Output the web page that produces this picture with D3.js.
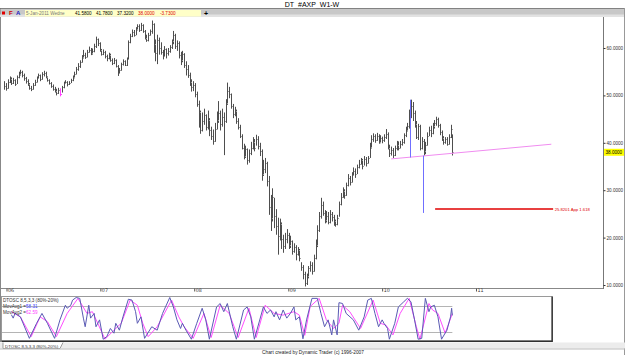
<!DOCTYPE html>
<html>
<head>
<meta charset="utf-8">
<script src="https://cdn.jsdelivr.net/npm/d3@7"></script>
<style>
  body { margin: 0; background: #fff; }
  svg { display: block; font-family: "Liberation Sans", "DejaVu Sans", sans-serif; }
</style>
</head>
<body>
<script>
// weekly bars, first one is Fri 23-Dec-2005
const firstWeek = new Date(2005, 11, 23);

const highs = [
  53.0, 52.6, 53.4, 54.0, 53.8, 53.7, 53.4, 54.2, 55.0, 55.4,
  55.2, 54.6, 53.9, 53.4, 52.6, 52.0, 52.6, 53.3, 54.0, 54.6,
  54.4, 54.9, 55.2, 55.0, 54.0, 53.4, 52.8, 52.3, 51.8, 51.4,
  51.6, 51.5, 52.0, 52.9, 53.2, 53.0, 53.0, 53.5, 54.2, 55.0,
  56.0, 56.8, 57.4, 58.5, 59.6, 59.0, 59.6, 60.3, 60.0, 59.9,
  60.9, 62.4, 62.0, 61.2, 59.8, 59.7, 59.4, 58.6, 59.0, 58.8,
  57.8, 57.9, 57.6, 56.4, 55.8, 56.9, 57.6, 57.4, 58.0, 61.6,
  63.0, 63.9, 63.8, 64.4, 65.0, 65.0, 65.3, 65.0, 63.8, 62.8,
  63.2, 63.9, 65.8, 65.2, 61.8, 62.8, 62.2, 61.2, 59.6, 60.4,
  59.9, 60.0, 60.6, 61.8, 63.6, 63.0, 61.6, 61.4, 59.2, 59.4,
  58.9, 57.2, 56.4, 54.8, 53.4, 53.0, 52.6, 50.8, 48.9, 46.8,
  46.4, 47.2, 46.0, 46.8, 45.2, 43.4, 42.8, 44.2, 46.6, 48.8,
  46.8, 47.2, 46.4, 49.2, 52.7, 51.8, 50.4, 48.2, 47.6, 47.0,
  45.2, 43.8, 41.8, 39.8, 39.4, 38.8, 38.6, 40.2, 41.2, 40.8,
  41.7, 41.4, 40.0, 38.6, 36.4, 36.8, 36.0, 33.0, 29.0, 30.4,
  28.4, 26.0, 24.2, 24.0, 23.2, 20.6, 21.0, 21.8, 21.0, 20.4,
  19.4, 18.8, 18.4, 18.0, 17.6, 14.8, 14.2, 12.8, 12.4, 14.0,
  15.0, 14.8, 16.4, 19.6, 22.6, 25.4, 28.4, 27.6, 25.8, 25.6,
  25.4, 25.8, 25.4, 24.8, 23.8, 24.8, 27.6, 29.4, 30.6, 30.2,
  31.6, 33.4, 33.0, 33.8, 34.8, 34.6, 35.4, 36.4, 36.8, 36.6,
  37.2, 37.0, 37.2, 40.0, 41.6, 42.0, 41.8, 42.1, 41.8, 41.6,
  41.3, 41.8, 42.9, 42.2, 39.6, 39.2, 38.9, 39.4, 40.4, 40.3,
  40.4, 40.8, 42.0, 43.4, 44.2, 47.0, 49.1, 48.6, 46.8, 44.6,
  44.0, 43.8, 41.2, 40.8, 40.2, 42.2, 43.4, 43.6, 44.2, 44.8,
  45.5, 45.3, 44.0, 42.6, 41.4, 41.2, 41.2, 41.8, 43.8, 41.78
];
const lows = [
  51.2, 51.0, 51.4, 52.6, 52.2, 52.4, 52.0, 52.4, 53.6, 54.2,
  53.8, 53.1, 52.5, 52.0, 51.2, 50.9, 51.2, 52.0, 52.7, 53.5,
  53.0, 53.3, 54.0, 53.6, 52.9, 52.3, 51.6, 51.0, 50.6, 50.0,
  50.3, 49.8, 50.6, 51.5, 52.4, 51.9, 52.2, 52.6, 53.0, 53.6,
  54.4, 55.2, 55.8, 56.9, 57.8, 57.7, 58.0, 59.0, 58.5, 58.6,
  59.1, 60.0, 60.4, 59.2, 58.4, 58.5, 57.8, 57.2, 57.6, 57.1,
  56.4, 56.6, 55.9, 54.1, 54.6, 55.2, 56.3, 56.2, 56.2, 57.6,
  61.0, 62.3, 62.4, 62.7, 63.7, 63.4, 63.6, 63.2, 61.8, 61.3,
  61.4, 62.6, 63.0, 59.0, 57.2, 56.6, 58.6, 58.6, 57.6, 58.2,
  57.8, 58.4, 59.0, 59.8, 60.8, 59.8, 59.4, 57.8, 56.4, 57.0,
  55.8, 54.2, 53.7, 52.0, 50.8, 50.9, 49.6, 47.6, 43.2, 41.9,
  42.4, 43.8, 42.6, 42.8, 41.4, 40.6, 39.6, 40.2, 42.8, 44.2,
  42.6, 43.4, 37.4, 44.2, 48.0, 49.4, 47.2, 45.2, 45.6, 44.0,
  42.8, 41.0, 38.6, 36.5, 36.8, 35.4, 35.8, 37.4, 38.6, 38.2,
  39.4, 38.6, 37.2, 32.0, 33.0, 33.6, 30.8, 24.8, 21.4, 23.4,
  22.0, 20.6, 16.4, 19.4, 17.6, 16.8, 17.6, 18.8, 17.6, 17.8,
  16.4, 16.8, 15.2, 16.2, 15.0, 13.0, 11.2, 9.7, 10.0, 11.4,
  12.8, 12.2, 12.8, 15.4, 18.0, 21.2, 24.0, 24.6, 23.0, 23.2,
  22.8, 23.0, 23.4, 22.5, 22.3, 22.6, 24.4, 26.8, 28.4, 28.2,
  28.8, 30.8, 31.0, 31.6, 33.0, 32.6, 33.4, 34.6, 35.4, 34.4,
  35.2, 35.0, 35.6, 36.8, 38.8, 40.2, 40.0, 40.4, 39.8, 39.9,
  39.9, 40.2, 40.8, 38.6, 37.0, 37.3, 36.8, 37.2, 38.4, 38.4,
  38.8, 39.4, 39.8, 41.2, 42.4, 43.0, 45.2, 44.6, 43.2, 40.8,
  40.6, 38.4, 38.6, 37.3, 37.6, 39.4, 41.4, 41.2, 41.8, 43.0,
  43.6, 43.2, 41.6, 40.4, 39.6, 39.8, 39.4, 39.6, 41.0, 37.32
];
const closes = [
  52.0, 51.5, 52.8, 53.5, 52.6, 53.2, 52.4, 53.8, 54.6, 55.0,
  54.2, 53.6, 53.0, 52.4, 51.6, 51.3, 52.2, 52.8, 53.6, 54.2,
  53.4, 54.5, 54.8, 53.9, 53.2, 52.6, 52.0, 51.4, 51.0, 50.6,
  51.2, 50.4, 51.8, 52.6, 52.9, 52.3, 52.7, 53.2, 53.8, 54.5,
  55.6, 56.3, 57.0, 58.0, 58.6, 58.1, 59.2, 59.6, 58.9, 59.4,
  60.5, 61.8, 61.0, 59.6, 58.8, 59.2, 58.3, 57.9, 58.6, 57.5,
  56.8, 57.4, 56.2, 54.8, 55.3, 56.6, 57.2, 56.5, 57.6, 61.2,
  62.5, 63.4, 62.8, 64.0, 64.6, 63.8, 64.9, 63.5, 62.2, 61.7,
  62.8, 63.5, 65.0, 60.8, 59.0, 61.6, 60.0, 59.2, 58.4, 59.8,
  58.9, 59.4, 60.2, 61.4, 62.8, 60.4, 61.0, 58.6, 57.4, 58.8,
  56.5, 55.6, 54.4, 52.8, 51.7, 52.2, 50.4, 48.2, 46.5, 42.8,
  44.6, 45.8, 43.4, 44.9, 42.6, 41.5, 40.4, 43.0, 44.8, 46.2,
  44.0, 45.4, 44.6, 48.5, 51.0, 50.2, 47.8, 46.0, 46.8, 44.6,
  43.3, 41.5, 39.0, 37.2, 38.6, 36.4, 37.8, 38.9, 40.2, 39.0,
  40.8, 39.4, 38.2, 33.5, 34.5, 35.8, 32.0, 26.5, 24.2, 28.6,
  24.6, 22.5, 20.4, 22.8, 19.6, 18.2, 19.8, 20.6, 18.5, 19.2,
  17.2, 18.0, 16.6, 17.4, 15.8, 13.8, 12.4, 10.4, 11.8, 13.6,
  14.2, 13.0, 15.8, 18.5, 21.6, 24.5, 26.8, 25.2, 23.8, 24.6,
  23.2, 25.0, 24.3, 23.5, 22.9, 24.2, 27.0, 28.6, 29.8, 28.9,
  31.0, 32.6, 31.8, 33.2, 34.0, 33.5, 34.8, 35.6, 36.3, 35.2,
  36.6, 35.8, 36.8, 39.2, 40.8, 41.4, 40.6, 41.5, 40.2, 41.0,
  40.5, 41.2, 41.9, 39.0, 37.8, 38.5, 37.4, 38.8, 39.6, 38.9,
  39.8, 40.2, 41.6, 42.8, 43.5, 45.6, 47.8, 46.2, 44.0, 41.2,
  43.6, 39.0, 40.4, 38.2, 39.6, 41.5, 42.8, 42.0, 43.6, 44.2,
  45.0, 43.8, 42.2, 41.0, 40.2, 40.8, 39.8, 41.2, 43.0, 38.0
];
const markedBar = 31; // bar painted magenta

// DTOSC lines, read at [bar index, value]
const oscFast = [
  [4,60],[5,52],[6,63],[9,55],[14,5],[18,40],[21,63],[24,40],[28,5],[31,48],
  [34,82],[35,75],[37,82],[38,94],[40,100],[42,98],[44,52],[45,32],[47,82],[48,52],
  [50,63],[51,32],[53,48],[55,3],[57,9],[59,28],[61,17],[62,40],[64,24],[66,55],
  [69,96],[71,94],[73,67],[74,40],[76,55],[78,5],[82,32],[85,24],[88,63],[92,100],
  [94,78],[96,48],[98,28],[99,40],[101,24],[104,3],[107,40],[110,75],[112,48],[114,3],
  [118,78],[120,86],[122,67],[124,86],[127,32],[129,3],[133,71],[135,78],[137,55],[139,3],
  [144,78],[146,63],[148,71],[150,55],[151,67],[153,48],[155,71],[157,52],[159,63],[161,78],
  [162,48],[164,55],[166,4],[168,48],[171,98],[174,98],[176,63],[178,32],[180,48],[182,13],
  [183,48],[185,13],[186,88],[188,86],[190,63],[194,48],[197,24],[200,55],[202,94],[204,98],
  [206,63],[208,32],[210,48],[211,40],[213,28],[214,3],[217,40],[219,78],[222,90],[224,98],
  [226,90],[228,48],[230,3],[232,5],[234,98],[236,67],[237,78],[239,82],[241,55],[243,3],
  [246,24],[248,55],[248.6,75],[249,58.31]
];
const oscSlow = [
  [4,67],[9,55],[15,9],[20,55],[24,44],[29,9],[35,63],[41,98],[46,63],[49,67],
  [52,40],[56,3],[61,24],[65,40],[70,94],[74,82],[77,40],[80,9],[85,32],[93,94],
  [97,55],[100,32],[105,5],[111,63],[115,7],[120,82],[125,63],[130,7],[136,75],[140,7],
  [145,82],[150,63],[155,59],[161,67],[164,59],[167,12],[170,79],[175,98],[179,48],[183,28],
  [186,40],[188,82],[192,67],[198,28],[205,94],[209,40],[212,36],[216,13],[220,63],[225,98],
  [229,32],[231,3],[236,86],[238,71],[241,63],[245,17],[249,62.59]
];
const oscLevels = [80, 20];

const priceTicks = [10, 20, 30, 40, 50, 60];
const lastClose = 38.0;
const quote = ["41.5800", "41.7800", "37.3200", "38.0000", "-3.7300"];

// drawn tools
const trendLine = [[new Date(2010, 1, 5), 36.6], [new Date(2011, 9, 21), 39.7]];
const blueLines = [[226, 49.1, 36.9], [233, 37.3, 25.2]];
const target = {price: 25.8201, from: new Date(2010, 6, 26), to: new Date(2011, 9, 28), label: "25.8201 App 1.618"};

const W = 625, H = 355;
const N = closes.length;
const dates = d3.range(N).map(i => d3.timeDay.offset(firstWeek, 7 * i));

const svg = d3.select("body").append("svg")
    .attr("width", W).attr("height", H);

svg.append("rect").attr("width", W).attr("height", H).attr("fill", "#fff");

// title + quote bar
svg.append("text").attr("x", 312).attr("y", 6.5)
    .attr("text-anchor", "middle").attr("font-size", 7).attr("fill", "#000")
    .text("DT_#AXP_W1-W");
svg.append("rect").attr("x", 0).attr("y", 8.5).attr("width", W).attr("height", 8)
    .attr("fill", "#c8c8c8").attr("stroke", "#6a6a6a").attr("stroke-width", 0.8);
svg.append("rect").attr("x", 0).attr("y", 14.5).attr("width", W).attr("height", 2.5).attr("fill", "#e2e2e2");
svg.append("rect").attr("x", 2).attr("y", 11.5).attr("width", 3).attr("height", 3).attr("fill", "#e00000");
svg.append("text").attr("x", 9).attr("y", 15).attr("font-size", 6).attr("font-weight", "bold")
    .attr("fill", "#d00000").text("F");
svg.append("text").attr("x", 16).attr("y", 15).attr("font-size", 6).attr("font-weight", "bold")
    .attr("fill", "#2020c0").text("A");
svg.append("rect").attr("x", 25).attr("y", 10).attr("width", 176).attr("height", 6.5).attr("fill", "#ffffc8");
svg.append("text").attr("x", 26).attr("y", 15).attr("font-size", 4.6).attr("fill", "#777")
    .text("5-Jan-2011 Wedne");
const quoteX = [75, 96, 117, 138, 160];
quote.forEach((q, i) => {
  svg.append("text").attr("x", quoteX[i]).attr("y", 15).attr("font-size", 4.6)
      .attr("fill", i >= 3 ? "#e00000" : "#000").text(q);
});
svg.append("text").attr("x", 204).attr("y", 15.5).attr("font-size", 7).attr("font-weight", "bold")
    .attr("fill", "#000").text("+");

// scales
const x = d3.scaleTime()
    .domain([new Date(2006, 0, 1), new Date(2011, 0, 1)])
    .range([6.5, 476]);
const bx = d3.scaleLinear()
    .domain([0, N - 1])
    .range([x(dates[0]), x(dates[N - 1])]);
const y = d3.scaleLinear()
    .domain([10, 60])
    .range([285, 48]);
const oy = d3.scaleLinear()
    .domain([0, 100])
    .range([340.5, 297.5]);

// frame lines of the price pane
svg.append("line").attr("x1", 0.5).attr("x2", 0.5).attr("y1", 17).attr("y2", 342)
    .attr("stroke", "#888");
svg.append("line").attr("x1", W - 0.5).attr("x2", W - 0.5).attr("y1", 8).attr("y2", H)
    .attr("stroke", "#999");

// Y axis on the right
const yAxis = svg.append("g")
    .attr("transform", "translate(603.5,0)")
    .call(d3.axisRight(y).tickValues(priceTicks).tickFormat(d3.format(".4f")).tickSize(2).tickPadding(1));
yAxis.select(".domain").attr("d", "M0,17V289").attr("stroke", "#777");
yAxis.selectAll("text").attr("font-size", 4.6).attr("fill", "#333").attr("font-family", "Liberation Sans, sans-serif");
yAxis.selectAll("line").attr("stroke", "#333");

// last price box
svg.append("rect").attr("x", 604).attr("y", y(lastClose) - 3.5).attr("width", 20).attr("height", 7)
    .attr("fill", "#ffff00");
svg.append("text").attr("x", 605.5).attr("y", y(lastClose) + 1.8).attr("font-size", 4.6).attr("fill", "#000")
    .text(d3.format(".4f")(lastClose));

// X axis with year ticks
const xAxis = svg.append("g")
    .attr("transform", "translate(0,288.5)")
    .call(d3.axisBottom(x).ticks(d3.timeYear).tickFormat(d3.timeFormat("%y")).tickSize(3).tickPadding(0));
xAxis.select(".domain").attr("d", "M0,0H603").attr("stroke", "#888");
xAxis.selectAll("line").attr("stroke", "#555");
xAxis.selectAll("text").attr("font-size", 4.8).attr("fill", "#333")
    .attr("text-anchor", "start").attr("dx", 1).attr("dy", "0.1em")
    .attr("font-family", "DejaVu Sans, sans-serif");

// price bars (high-low with close tick)
const bars = svg.append("g");
bars.selectAll(".hl")
  .data(d3.range(N))
  .join("line")
    .attr("x1", i => Math.round(bx(i)) + 0.5)
    .attr("x2", i => Math.round(bx(i)) + 0.5)
    .attr("y1", i => y(highs[i]))
    .attr("y2", i => y(lows[i]))
    .attr("stroke", i => i === markedBar ? "#ff44ff" : "#4e4e4e")
    .attr("stroke-width", 1);
bars.selectAll(".cl")
  .data(d3.range(N))
  .join("line")
    .attr("x1", i => Math.round(bx(i)) + 1)
    .attr("x2", i => Math.round(bx(i)) + 2)
    .attr("y1", i => Math.round(y(closes[i])) + 0.5)
    .attr("y2", i => Math.round(y(closes[i])) + 0.5)
    .attr("stroke", i => i === markedBar ? "#ff44ff" : "#a0a0a0")
    .attr("stroke-width", 1);

// trend line
svg.append("line")
    .attr("x1", x(trendLine[0][0])).attr("y1", y(trendLine[0][1]))
    .attr("x2", x(trendLine[1][0])).attr("y2", y(trendLine[1][1]))
    .attr("stroke", "#f08cf0").attr("stroke-width", 1);

// blue verticals
svg.selectAll(".vline")
  .data(blueLines)
  .join("line")
    .attr("x1", d => Math.round(bx(d[0])) - 0.5)
    .attr("x2", d => Math.round(bx(d[0])) - 0.5)
    .attr("y1", d => y(d[1]))
    .attr("y2", d => y(d[2]))
    .attr("stroke", "#6f6fff").attr("stroke-width", 1);

// target line
svg.append("line")
    .attr("x1", x(target.from)).attr("x2", x(target.to))
    .attr("y1", y(target.price) - 1).attr("y2", y(target.price) - 1)
    .attr("stroke", "#e00000").attr("stroke-width", 1.6);
svg.append("text").attr("x", x(target.to) + 1.5).attr("y", y(target.price) + 0.8)
    .attr("font-size", 4.2).attr("fill", "#e00000").text(target.label);

// oscillator pane
svg.append("rect").attr("x", 1.5).attr("y", 296.5).attr("width", 550.5).attr("height", 44.5)
    .attr("fill", "#fff").attr("stroke", "#9a9a9a").attr("stroke-width", 1);
svg.append("line").attr("x1", 1.5).attr("x2", 552).attr("y1", 341.2).attr("y2", 341.2)
    .attr("stroke", "#303030").attr("stroke-width", 1.4);
svg.append("line").attr("x1", 552.2).attr("x2", 552.2).attr("y1", 296.5).attr("y2", 342)
    .attr("stroke", "#303030").attr("stroke-width", 1.4);

svg.selectAll(".lvl")
  .data(oscLevels)
  .join("line")
    .attr("x1", 2).attr("x2", bx(N - 1))
    .attr("y1", d => Math.round(oy(d)) + 0.5).attr("y2", d => Math.round(oy(d)) + 0.5)
    .attr("stroke", "#b4b4b4").attr("stroke-width", 1);

const oscLine = d3.line()
    .x(d => bx(d[0]))
    .y(d => oy(d[1]));
svg.append("path").datum(oscSlow)
    .attr("d", oscLine).attr("fill", "none")
    .attr("stroke", "#ff4cff").attr("stroke-width", 1);
svg.append("path").datum(oscFast)
    .attr("d", oscLine).attr("fill", "none")
    .attr("stroke", "#5a5ab4").attr("stroke-width", 1);

const oscText = svg.append("g").attr("font-size", 4.6);
oscText.append("text").attr("x", 3).attr("y", 302).attr("fill", "#333").text("DTOSC 8,5,3,3 (80%-20%)");
const t1 = oscText.append("text").attr("x", 3).attr("y", 308).attr("fill", "#333").text("MovAvg1 =");
t1.append("tspan").attr("fill", "#4040ff").text(d3.format(".2f")(oscFast[oscFast.length - 1][1]));
const t2 = oscText.append("text").attr("x", 3).attr("y", 314).attr("fill", "#333").text("MovAvg2 =");
t2.append("tspan").attr("fill", "#ff40ff").text(d3.format(".2f")(oscSlow[oscSlow.length - 1][1]));

// tab strip + footer
svg.append("rect").attr("x", 0).attr("y", 342.5).attr("width", W).attr("height", 6)
    .attr("fill", "#ececec");
svg.append("path").attr("d", "M3,342.5V348.5H60L63,342.5")
    .attr("fill", "#fff").attr("stroke", "#777").attr("stroke-width", 0.7);
svg.append("text").attr("x", 5).attr("y", 347.5).attr("font-size", 4.4).attr("fill", "#333")
    .text("DTOSC 8,5,3,3 (80%-20%)");
svg.append("line").attr("x1", 0).attr("x2", W).attr("y1", 349).attr("y2", 349).attr("stroke", "#bbb");
svg.append("text").attr("x", 313).attr("y", 353.5).attr("text-anchor", "middle")
    .attr("font-size", 4.8).attr("fill", "#222")
    .text("Chart created by Dynamic Trader  (c) 1996-2007");
</script>
</body>
</html>
